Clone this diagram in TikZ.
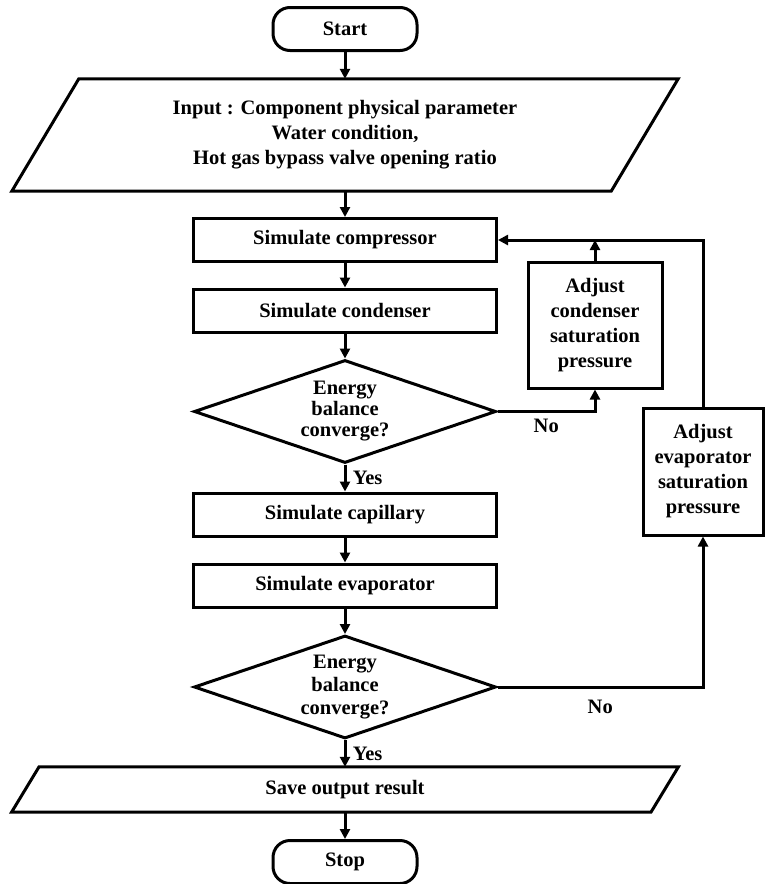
\documentclass[tikz,border=0pt]{standalone}
\usepackage{fontspec}
\setmainfont{Liberation Serif}
\usetikzlibrary{arrows.meta}
\usetikzlibrary{shapes.geometric}

\begin{document}
\begin{tikzpicture}[x=1pt, y=-1pt,
  font=\bfseries\fontsize{20.5}{25}\selectfont,
  flow/.style={line width=3pt, -{Triangle[length=10pt,width=10pt]}},
  term/.style={draw, line width=3pt, rounded corners=17pt, minimum width=144pt, minimum height=43pt},
  proc/.style={draw, line width=3pt, minimum width=303pt, minimum height=43pt},
  adjust/.style={draw, line width=3pt, align=center, inner sep=0pt},
  decide/.style={diamond, draw, line width=3pt, aspect=3, inner sep=0pt, align=center,
                 minimum width=302pt, minimum height=103pt},
  iobox/.style={inner sep=0pt, align=center},
  outline/.style={line width=3pt, line join=miter}]

\useasboundingbox (0,0) rectangle (764,884);

% First, the nodes of the main column
\node[term] (start) at (345,29) {Start};
\node[iobox, minimum width=599pt, minimum height=112pt] (input) at (345,135)
  {Input : Component physical parameter\\Water condition,\\Hot gas bypass valve opening ratio};
\node[proc] (comp) at (345,240) {Simulate compressor};
\node[proc] (cond) at (345,310.5) {Simulate condenser};
\node[decide, font=\bfseries\fontsize{20.5}{21}\selectfont] (conv1) at (345,411.5) {Energy\\balance\\converge?};
\node[proc] (capi) at (345,514.5) {Simulate capillary};
\node[proc] (evap) at (345,585.5) {Simulate evaporator};
\node[decide, font=\bfseries\fontsize{20.5}{23}\selectfont] (conv2) at (345,687) {Energy\\balance\\converge?};
\node[iobox, minimum width=639pt, minimum height=45pt] (save) at (345,789.5) {Save output result};
\node[term] (stop) at (345,862) {Stop};

% the two adjusting boxes on the right
\node[adjust, minimum width=134pt, minimum height=126pt] (adjcond) at (595,325)
  {Adjust\\condenser\\saturation\\pressure};
\node[adjust, minimum width=120pt, minimum height=127pt] (adjevap) at (703,471.5)
  {Adjust\\evaporator\\saturation\\pressure};

% slanted outlines round the input and output text
\draw[outline] ([xshift=33.5pt]input.north west) -- ([xshift=33.5pt]input.north east)
  -- ([xshift=-33.5pt]input.south east) -- ([xshift=-33.5pt]input.south west) -- cycle;
\draw[outline] ([xshift=13.75pt]save.north west) -- ([xshift=13.75pt]save.north east)
  -- ([xshift=-13.75pt]save.south east) -- ([xshift=-13.75pt]save.south west) -- cycle;

% Now the arrows down the main column
\draw[flow] (start) -- (input);
\draw[flow] (input) -- (comp);
\draw[flow] (comp) -- (cond);
\draw[flow] (cond) -- (conv1);
\draw[flow] (conv1) -- node[right=3pt] (yes1) {Yes} (capi);
\draw[flow] (capi) -- (evap);
\draw[flow] (evap) -- (conv2);
\draw[flow] (conv2) -- node[right=3pt] (yes2) {Yes} (save);
\draw[flow] (save) -- (stop);

% Finally the two loops back to the compressor
\draw[flow] (conv1.east) -| node[below=3pt, pos=0.25] (no1) {No} (adjcond.south);
\draw[flow] (adjcond.north) -- (adjcond.north |- comp.east);
\draw[flow] (conv2.east) -| node[below=8pt, pos=0.25] (no2) {No} (adjevap.south);
\draw[flow] (adjevap.north) |- (comp.east);

\end{tikzpicture}
\end{document}
